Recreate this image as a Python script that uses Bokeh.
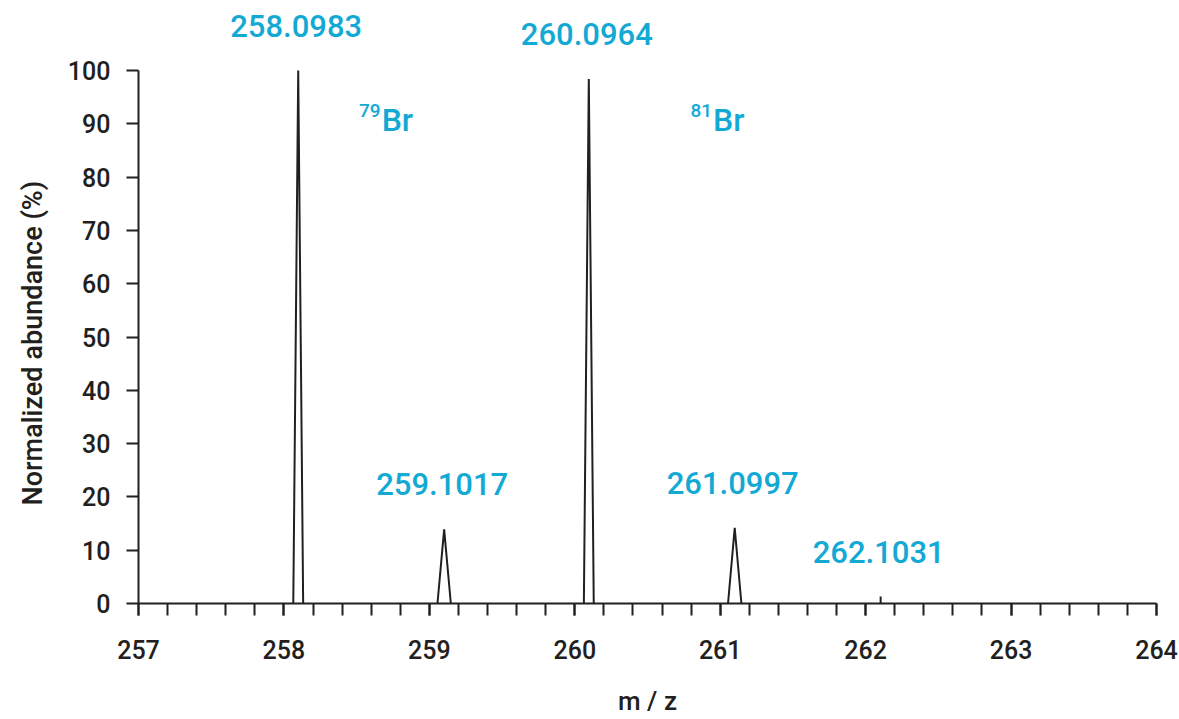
from bokeh.plotting import figure
from bokeh.models import ColumnDataSource, Range1d, FixedTicker, SingleIntervalTicker, Title
from bokeh.core.properties import value
from bokeh.embed import file_html
from bokeh.resources import INLINE

# ---- data ----
peak_mz = [258.0983, 259.1017, 260.0964, 261.0997, 262.1031]
peak_abundance = [100.0, 13.9, 98.4, 14.2, 1.3]
peak_halfwidth = [0.034, 0.046, 0.034, 0.046, 0.0]
peak_labels = ["258.0983", "259.1017", "260.0964", "261.0997", "262.1031"]

isotope_mass = ["79", "81"]
isotope_symbol = ["Br", "Br"]
isotope_x = [258.672, 260.951]
isotope_y = [88.1, 88.1]

x_ticks = [257, 258, 259, 260, 261, 262, 263, 264]
y_ticks = [0, 10, 20, 30, 40, 50, 60, 70, 80, 90, 100]

DARK = "#231F20"
CYAN = "#12A9D4"
FONT = "Roboto Medium"

p = figure(width=1179, height=719,
           x_range=Range1d(257, 264), y_range=Range1d(0, 112.2),
           output_backend="svg", toolbar_location=None,
           min_border_left=138, min_border_right=23,
           min_border_top=5, min_border_bottom=116)
p.outline_line_color = None
p.xgrid.visible = False
p.ygrid.visible = False
p.background_fill_color = "white"
p.border_fill_color = "white"

# peaks as triangles
xs = [[c - w, c, c + w] for c, w in zip(peak_mz, peak_halfwidth)]
ys = [[0, h, 0] for h in peak_abundance]
p.multi_line(xs=xs, ys=ys, line_color=DARK, line_width=2)

# peak labels
lab_src = ColumnDataSource(dict(x=peak_mz, y=peak_abundance, t=peak_labels))
p.text(x="x", y="y", text="t", source=lab_src, text_align="center",
       text_baseline="alphabetic", y_offset=-45, x_offset=-2,
       text_font=value(FONT), text_font_size="31px", text_color=CYAN)

# isotope labels (79Br, 81Br)
iso_src = ColumnDataSource(dict(x=isotope_x, y=isotope_y, m=isotope_mass, s=isotope_symbol))
p.text(x="x", y="y", text="s", source=iso_src, text_align="left",
       text_baseline="alphabetic", y_offset=-14,
       text_font=value(FONT), text_font_size="32px", text_color=CYAN)
p.text(x="x", y="y", text="m", source=iso_src, text_align="right",
       text_baseline="alphabetic", x_offset=-1, y_offset=-23,
       text_font=value(FONT), text_font_size="19px", text_color=CYAN)

# x axis
xa = p.xaxis[0]
xa.ticker = SingleIntervalTicker(interval=1, num_minor_ticks=5)
xa.axis_label = "m / z"
xa.axis_line_color = DARK
xa.axis_line_width = 2
xa.major_tick_line_color = DARK
xa.major_tick_line_width = 2
xa.minor_tick_line_color = DARK
xa.minor_tick_line_width = 2
xa.major_tick_in = 0
xa.major_tick_out = 12
xa.minor_tick_in = 0
xa.minor_tick_out = 12
xa.major_label_standoff = 24
xa.major_label_text_font = FONT
xa.major_label_text_font_size = "25px"
xa.major_label_text_color = DARK
xa.axis_label_standoff = 24
xa.axis_label_text_font = FONT
xa.axis_label_text_font_size = "26px"
xa.axis_label_text_font_style = "normal"
xa.axis_label_text_color = DARK

# y axis
ya = p.yaxis[0]
ya.ticker = FixedTicker(ticks=y_ticks)
ya.bounds = (0, 100)
ya.axis_line_color = DARK
ya.axis_line_width = 2
ya.major_tick_line_color = DARK
ya.major_tick_line_width = 2
ya.major_tick_in = 0
ya.major_tick_out = 12
ya.minor_tick_line_color = None
ya.major_label_standoff = 16
ya.major_label_text_font = FONT
ya.major_label_text_font_size = "25px"
ya.major_label_text_color = DARK

# y-axis title as a side title, so it can be centred on the drawn axis (0-100)
ytitle = Title(text="Normalized abundance (%)", align="left", offset=98,
               vertical_align="top", standoff=28,
               text_font=FONT, text_font_size="27px", text_font_style="normal",
               text_color=DARK)
p.add_layout(ytitle, "left")

open("out.html", "w").write(file_html(p, INLINE))
